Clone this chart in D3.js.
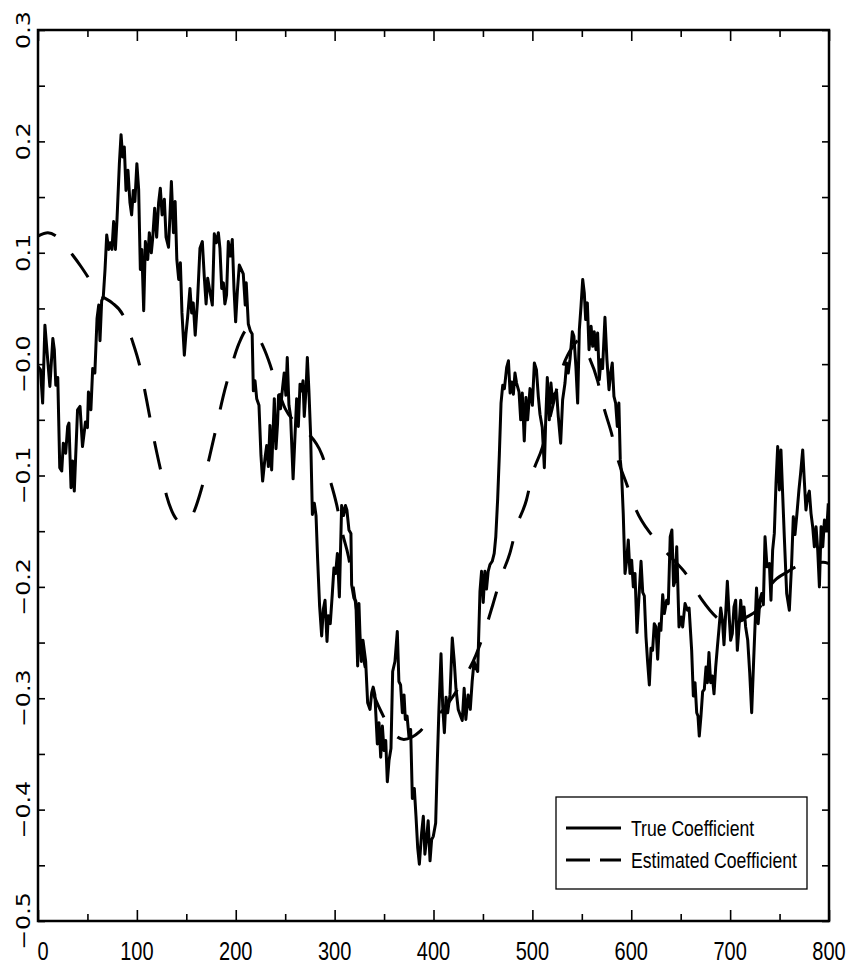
<!DOCTYPE html>
<html><head><meta charset="utf-8">
<script src="https://cdn.jsdelivr.net/npm/d3@7"></script>
<style>html,body{margin:0;padding:0;background:#fff;} svg{display:block;}</style>
</head><body><svg id="chart" width="848" height="969"></svg>
<script>
const xTickValues = [0,100,200,300,400,500,600,700,800];
const xTickLabels = ["0","100","200","300","400","500","600","700","800"];
const xMinorTicks = [50,150,250,350,450,550,650,750];
const yTickValues = [0.3,0.2,0.1,0.0,-0.1,-0.2,-0.3,-0.4,-0.5];
const yTickLabels = ["0.3","0.2","0.1","\u22120.0","\u22120.1","\u22120.2","\u22120.3","\u22120.4","\u22120.5"];
const yMinorTicks = [0.25,0.15,0.05,-0.05,-0.15,-0.25,-0.35,-0.45];
const seriesNames = ["True Coefficient","Estimated Coefficient"];

const trueCoefficient = [
[0,-0.002],[2.5,-0.005],[4.7,-0.035],[7,0.035],[9.8,0.004],[12,-0.02],[15,0.023],[16.5,0.013],[18,-0.019],[20,-0.012],[22,-0.093],[24,-0.096],[25.6,-0.071],[28,-0.08],[30,-0.056],[31.3,-0.053],[33.4,-0.111],[35,-0.087],[36.7,-0.114],[40,-0.041],[42.5,-0.038],[45,-0.074],[48,-0.052],[50,-0.057],[51,-0.025],[53.5,-0.041],[55.3,-0.004],[57.5,-0.008],[59.7,0.041],[61.4,0.053],[62.7,0.021],[64.4,0.057],[66,0.06],[67.8,0.085],[69.5,0.116],[71.5,0.103],[73,0.109],[74.8,0.103],[76.5,0.128],[78.3,0.103],[79.9,0.13],[82.3,0.18],[84,0.206],[85.6,0.186],[87.3,0.195],[89,0.156],[91,0.174],[93,0.145],[94.7,0.134],[96.4,0.156],[98,0.146],[100,0.18],[101.8,0.157],[103.5,0.085],[105,0.103],[106.9,0.048],[108.6,0.11],[111,0.094],[112.6,0.118],[114.6,0.1],[116,0.113],[118,0.14],[120,0.114],[122,0.145],[123.7,0.158],[125.5,0.134],[127.8,0.148],[129.5,0.114],[132,0.105],[133.5,0.134],[134.9,0.164],[137,0.118],[138.7,0.146],[140.4,0.094],[142.3,0.076],[144,0.091],[145.6,0.046],[148,0.008],[149.6,0.027],[151.3,0.042],[153.7,0.068],[155.4,0.046],[157,0.055],[159,0.026],[161.4,0.058],[163.8,0.104],
[166.2,0.11],[168.2,0.078],[170,0.054],[171.6,0.077],[173.9,0.065],[176.3,0.053],[178.3,0.117],[180.4,0.109],[182.4,0.118],[184,0.104],[185.8,0.068],[187.5,0.073],[189,0.054],[190.7,0.062],[192.5,0.11],[194.5,0.097],[196.5,0.112],[198.2,0.068],[199.9,0.038],[201.6,0.065],[203.6,0.089],[205.6,0.085],[207.6,0.081],[209.6,0.053],[210.6,0.073],[212.7,0.036],[214.7,0.03],[216.6,0.027],[217.8,-0.024],[219.5,-0.015],[221.2,-0.031],[223.5,-0.037],[225.5,-0.082],[227.2,-0.105],[229.5,-0.085],[231.3,-0.073],[233,-0.092],[234.6,-0.055],[236.3,-0.095],[239,-0.031],[240.7,-0.076],[242.3,-0.053],[243.3,-0.028],[245.3,-0.04],[247.4,-0.021],[249,-0.008],[250.7,-0.028],[252.1,0.006],[253.8,-0.037],[255.5,-0.047],[258,-0.103],[259.7,-0.069],[261.6,-0.031],[263.3,-0.056],[265,-0.018],[266.6,-0.024],[268,-0.015],[269.3,-0.047],[271,-0.024],[272.4,0.006],[274,-0.024],[275.7,-0.063],[277.5,-0.135],[279.5,-0.125],[281.2,-0.136],[282.8,-0.175],[284.8,-0.217],[286.9,-0.244],[288.6,-0.22],[290.3,-0.212],[292.3,-0.249],[293.6,-0.226],[295.6,-0.233],[297.6,-0.207],[299.3,-0.183],[301,-0.188],[302.8,-0.17],[304.8,-0.209],[307.1,-0.127],[309,-0.136],[311,-0.127],[312.4,-0.131],[314.5,-0.149],[316.5,-0.152],[317.2,-0.198],[319.5,-0.21],[321.5,-0.213],[323.3,-0.271],
[324.6,-0.215],[325.6,-0.242],[327,-0.267],[328.7,-0.248],[331.4,-0.267],[333.4,-0.304],[335.8,-0.31],[337.5,-0.295],[339,-0.29],[340.7,-0.297],[343.2,-0.341],[344.9,-0.322],[346.6,-0.353],[348.3,-0.325],[350,-0.347],[351.7,-0.338],[353.3,-0.375],[355,-0.356],[357,-0.345],[358.7,-0.276],[361,-0.267],[363.4,-0.24],[365,-0.285],[366.7,-0.288],[368.5,-0.313],[370.2,-0.297],[371.5,-0.319],[373.3,-0.316],[375.2,-0.335],[376.9,-0.328],[378.6,-0.39],[380.6,-0.381],[382.3,-0.406],[384,-0.434],[385.7,-0.449],[388,-0.421],[389.7,-0.406],[391.3,-0.44],[393,-0.426],[394.6,-0.41],[396.5,-0.446],[398.1,-0.427],[399.8,-0.424],[402.2,-0.412],[403.9,-0.356],[405.5,-0.31],[407.6,-0.26],[409.3,-0.307],[411,-0.331],[412.7,-0.299],[414.3,-0.313],[416.7,-0.297],[419,-0.246],[421,-0.267],[422.7,-0.291],[425,-0.31],[427.4,-0.316],[429.1,-0.32],[431,-0.291],[432.7,-0.319],[435,-0.297],[437.2,-0.31],[439.1,-0.285],[441,-0.267],[443,-0.273],[444.7,-0.276],[447,-0.204],[448.6,-0.186],[450.3,-0.214],[452,-0.186],[453.6,-0.202],[455.3,-0.186],[457.1,-0.18],[459.4,-0.177],[461.4,-0.17],[463,-0.155],[464.9,-0.121],[466.6,-0.081],[468.3,-0.035],[470,-0.019],[471.7,-0.022],[474,-0.003],[475.8,0.003],[477.5,-0.026],[479.2,-0.016],[480.8,-0.027],[482.4,-0.008],
[484,-0.017],[486.5,-0.025],[488.2,-0.05],[489.8,-0.026],[491.8,-0.069],[493.5,-0.03],[495.2,-0.05],[497.6,-0.022],[500,-0.037],[502,0.001],[504.1,-0.005],[506,-0.029],[507.7,-0.045],[510,-0.057],[512.1,-0.093],[513.4,-0.053],[515.1,-0.012],[517.1,-0.05],[518.8,-0.017],[520.5,-0.035],[522.2,-0.027],[524.5,-0.025],[526.2,-0.047],[528.6,-0.071],[530.6,-0.032],[533,-0.017],[534.6,0.001],[536.3,-0.008],[538,0.004],[540.4,0.029],[542,0.025],[544,-0.002],[545.8,-0.035],[547.5,0.031],[549.2,0.052],[550.9,0.076],[552.5,0.064],[553.9,0.04],[555.6,0.055],[557.3,0.013],[559.4,0.034],[561,0.016],[562.6,0.029],[564.3,0.013],[566,0.028],[567.7,-0.014],[569.4,0.004],[571,-0.004],[573.4,0.042],[575.4,0.004],[577.5,-0.023],[579.2,-0.008],[580.8,0.001],[582.5,-0.029],[584.2,-0.035],[585.9,-0.056],[587.5,-0.035],[588.9,-0.086],[590.2,-0.098],[591.9,-0.134],[593.7,-0.188],[595.4,-0.176],[597,-0.158],[598.7,-0.188],[600.4,-0.176],[602.1,-0.2],[603.8,-0.188],[605.8,-0.241],[607.8,-0.209],[609.9,-0.177],[611.6,-0.205],[613.2,-0.208],[614.9,-0.245],[616.6,-0.268],[618.3,-0.288],[620,-0.255],[621.6,-0.257],[623.3,-0.233],[625,-0.236],[626.7,-0.265],[628.4,-0.233],[630,-0.239],[631.8,-0.207],[633.5,-0.224],[635.8,-0.212],[637.5,-0.215],[639.4,-0.155],[641.1,-0.149],[642.8,-0.199],[644.5,-0.194],[646,-0.164],[648.3,-0.236],
[650.5,-0.227],[652,-0.236],[654.4,-0.215],[656.9,-0.221],[658.5,-0.219],[661.1,-0.257],[662.8,-0.298],[664.5,-0.286],[666.2,-0.313],[667.5,-0.316],[668.8,-0.334],[670.5,-0.316],[672.2,-0.294],[673.9,-0.292],[675.6,-0.272],[677,-0.286],[678.6,-0.259],[680.3,-0.286],[682,-0.28],[683.7,-0.296],[685.4,-0.272],[687.1,-0.254],[688.8,-0.237],[690.5,-0.219],[692.2,-0.23],[693.8,-0.252],[695.5,-0.224],[697.2,-0.195],[698.9,-0.224],[700.5,-0.248],[702.2,-0.242],[703.9,-0.218],[705.6,-0.212],[707.3,-0.257],[709,-0.236],[710.7,-0.212],[712.3,-0.23],[714,-0.218],[715.7,-0.236],[717.8,-0.248],[719.8,-0.277],[721.8,-0.313],[723.8,-0.266],[726.7,-0.201],[728.4,-0.233],[730.1,-0.212],[731.9,-0.206],[733.6,-0.216],[735.3,-0.155],[737.3,-0.182],[739.7,-0.179],[741.3,-0.212],[743,-0.167],[744.7,-0.152],[746.4,-0.107],[748.1,-0.074],[749.8,-0.113],[751.4,-0.077],[753.1,-0.116],[754.8,-0.155],[757.2,-0.206],[759.9,-0.221],[762.2,-0.179],[763.9,-0.137],[765.6,-0.153],[767.6,-0.134],[769.6,-0.113],[771.3,-0.098],[773.4,-0.077],[775,-0.104],[776.7,-0.131],[778.4,-0.119],[780.1,-0.114],[781.8,-0.134],[783.5,-0.146],[785.2,-0.164],[786.9,-0.146],[788.6,-0.167],[790.3,-0.2],[792,-0.146],[793.7,-0.164],[795.4,-0.14],[797.7,-0.149],[799.3,-0.125]
];

const estimatedCoefficient = [
[0,0.115],[10,0.118],[20,0.114],[35,0.098],[44,0.087],[52,0.076],[60,0.063],[66,0.060],[75,0.055],[86,0.044],[95,0.022],[103,-0.002],[110,-0.033],[117,-0.066],[124,-0.095],[130,-0.118],[137,-0.135],[142,-0.141],[148,-0.143],[157,-0.134],[165,-0.113],[173,-0.085],[180,-0.058],[187,-0.030],[195,-0.004],[203,0.018],[212,0.031],[222,0.025],[233,0.004],[242,-0.021],[250,-0.040],[260,-0.052],[272,-0.061],[287,-0.081],[295,-0.103],[302,-0.126],[308,-0.152],[314,-0.173],[322,-0.220],[330,-0.268],[338,-0.293],[347.6,-0.313],[360,-0.332],[370,-0.337],[378,-0.335],[386,-0.330],[394,-0.322],[410,-0.310],[420,-0.298],[429,-0.285],[443,-0.261],[452,-0.239],[460,-0.216],[468,-0.192],[477.5,-0.169],[484,-0.146],[494,-0.122],[500,-0.099],[510,-0.075],[520,-0.040],[529,-0.007],[541,0.016],[548,0.022],[557,0.007],[566,-0.015],[572,-0.038],[580,-0.062],[586,-0.084],[595.5,-0.108],[605,-0.131],[621,-0.154],[637.5,-0.171],[656,-0.189],[671,-0.211],[690,-0.230],[700,-0.234],[715,-0.228],[732,-0.216],[740,-0.200],[759,-0.186],[775,-0.179],[794,-0.178],[800,-0.179]
];

const L = 38, R = 829, T = 30, B = 921;
const svg = d3.select("#chart");
svg.append("rect").attr("width", 848).attr("height", 969).attr("fill", "#fff");

const x = d3.scaleLinear().domain([0, 800]).range([L, R]);
const y = d3.scaleLinear().domain([-0.5, 0.3]).range([B, T]);

function styleAxis(g) {
  g.select(".domain").remove();
  g.selectAll(".tick line").attr("stroke", "#000").attr("stroke-width", 1.6);
  g.selectAll(".tick text").remove();
}

svg.append("g").attr("transform", `translate(0,${B})`)
  .call(d3.axisBottom(x).tickValues(xTickValues).tickSize(-11).tickFormat("")).call(styleAxis);
svg.append("g").attr("transform", `translate(0,${B})`)
  .call(d3.axisBottom(x).tickValues(xMinorTicks).tickSize(-7).tickFormat("")).call(styleAxis);
svg.append("g").attr("transform", `translate(0,${T})`)
  .call(d3.axisTop(x).tickValues(xTickValues).tickSize(-11).tickFormat("")).call(styleAxis);
svg.append("g").attr("transform", `translate(0,${T})`)
  .call(d3.axisTop(x).tickValues(xMinorTicks).tickSize(-7).tickFormat("")).call(styleAxis);
const yAll = yTickValues.concat(yMinorTicks);
svg.append("g").attr("transform", `translate(${L},0)`)
  .call(d3.axisLeft(y).tickValues(yAll).tickSize(-7).tickFormat("")).call(styleAxis);
svg.append("g").attr("transform", `translate(${R},0)`)
  .call(d3.axisRight(y).tickValues(yAll).tickSize(-7).tickFormat("")).call(styleAxis);

svg.append("g").selectAll("text").data(xTickValues).join("text")
  .attr("transform", (d, i) => `translate(${x(d) + (i === 0 ? 5 : 0)},960) scale(0.8,1)`)
  .attr("text-anchor", "middle")
  .attr("font-family", "'Liberation Sans', Arial, sans-serif")
  .attr("font-size", 25)
  .attr("fill", "#000")
  .text((d, i) => xTickLabels[i]);

svg.append("g").selectAll("text").data(yTickValues).join("text")
  .attr("transform", d => `translate(30,${y(d)}) rotate(-90) scale(1.25,1)`)
  .attr("text-anchor", "middle")
  .attr("font-family", "'DejaVu Sans ExtraLight', 'DejaVu Sans', sans-serif")
  .attr("font-size", 19)
  .attr("fill", "#000")
  .text((d, i) => yTickLabels[i]);

svg.append("clipPath").attr("id", "plotclip").append("rect")
  .attr("x", L).attr("y", T).attr("width", R - L).attr("height", B - T);

const lineTrue = d3.line().x(d => x(d[0])).y(d => y(d[1]));
const lineEst = d3.line().x(d => x(d[0])).y(d => y(d[1])).curve(d3.curveMonotoneX);

const plot = svg.append("g").attr("clip-path", "url(#plotclip)");
plot.append("path").datum(estimatedCoefficient)
  .attr("d", lineEst).attr("fill", "none").attr("stroke", "#000")
  .attr("stroke-width", 3).attr("stroke-dasharray", "29,24").attr("stroke-dashoffset", 10);
plot.append("path").datum(trueCoefficient)
  .attr("d", lineTrue).attr("fill", "none").attr("stroke", "#000")
  .attr("stroke-width", 3).attr("stroke-linejoin", "round");

svg.append("rect").attr("x", L).attr("y", T).attr("width", R - L).attr("height", B - T)
  .attr("fill", "none").attr("stroke", "#000").attr("stroke-width", 2.5);

const lg = svg.append("g");
lg.append("rect").attr("x", 556).attr("y", 797).attr("width", 251).attr("height", 92)
  .attr("fill", "#fff").attr("stroke", "#000").attr("stroke-width", 1.3);
const legendRows = [{name: seriesNames[0], dash: null, y: 828}, {name: seriesNames[1], dash: "24,10", y: 860}];
legendRows.forEach(r => {
  lg.append("line").attr("x1", 566).attr("x2", 621).attr("y1", r.y).attr("y2", r.y)
    .attr("stroke", "#000").attr("stroke-width", 3).attr("stroke-dasharray", r.dash);
  lg.append("text").attr("transform", `translate(631,${r.y + 8}) scale(0.8,1)`)
    .attr("font-family", "'Liberation Sans', Arial, sans-serif").attr("font-size", 22)
    .attr("fill", "#000").text(r.name);
});
</script></body></html>
